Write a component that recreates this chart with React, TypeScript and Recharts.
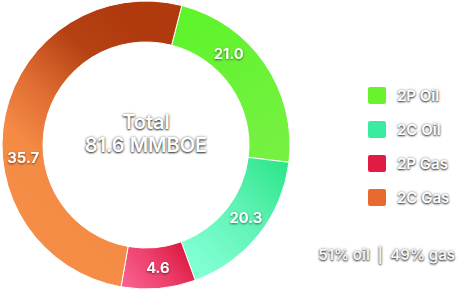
import React from "react";
import { PieChart, Pie, Cell, Legend } from "recharts";

// Category names
const categories = ["2P Oil", "2C Oil", "2P Gas", "2C Gas"];
// Printed slice values (MMBOE)
const labelValues = [21.0, 20.3, 4.6, 35.7];
// Arc sizes as drawn in the picture (MMBOE-equivalent shares of the ring)
const arcValues = [18.7, 14.3, 6.8, 41.8];
const totalTitle = "Total";
const totalText = "81.6 MMBOE";
const splitText = "51% oil  |  49% gas";

// styles
const legendColors = ["#6af22f", "#3aeca0", "#e01c45", "#e86a30"];
const gradients = [
  { id: "g0", x1: 0.3, y1: 0, x2: 0.7, y2: 1, stops: [["#5ef42a", 0], ["#76f142", 1]] },
  { id: "g1", x1: 1, y1: 0, x2: 0.2, y2: 0.9, stops: [["#28e585", 0], ["#5ef2b4", 0.5], ["#80ffd2", 1]] },
  { id: "g2", x1: 1, y1: 0.3, x2: 0, y2: 0.8, stops: [["#d8173c", 0], ["#ee3f6c", 0.5], ["#f8608e", 1]] },
  { id: "g3", x1: 0.65, y1: 0.05, x2: 0.25, y2: 0.75, stops: [["#b03a0e", 0], ["#b64214", 0.25], ["#e06d32", 0.55], ["#f48a44", 0.8], ["#f58d46", 1]] },
];
const labelAngleShift = [13.6, 2.4, 0.5, 18.2];
const FONT = "Inter, 'Noto Sans', sans-serif";
const SHADOW = "0 1px 2px rgba(0,0,0,0.8), 0 0 3px rgba(0,0,0,0.4)";

const data = categories.map((name, i) => ({ name, value: arcValues[i], label: labelValues[i] }));

const RAD = Math.PI / 180;

const renderLabel = (props: any) => {
  const { cx, cy, midAngle, innerRadius, outerRadius, index } = props;
  const r = (innerRadius + outerRadius) / 2;
  const a = (midAngle + labelAngleShift[index]) * RAD;
  const x = cx + r * Math.cos(a);
  const y = cy - r * Math.sin(a);
  return (
    <text
      x={x}
      y={y}
      textAnchor="middle"
      dominantBaseline="central"
      fill="#fff"
      fontSize={15}
      fontWeight={600}
      fontFamily={FONT}
      filter="url(#txtShadow)"
    >
      {labelValues[index].toFixed(1)}
    </text>
  );
};

const LegendContent = () => {
  return (
    <div style={{ fontFamily: FONT }}>
      {categories.map((name, i) => (
        <div key={name} style={{ display: "flex", alignItems: "center", height: 34 }}>
          <div
            style={{
              width: 18,
              height: 17,
              borderRadius: 2,
              background: legendColors[i],
              marginRight: 11,
            }}
          />
          <span
            style={{
              color: "#fff",
              fontSize: 15,
              fontWeight: 600,
              textShadow: SHADOW,
            }}
          >
            {name}
          </span>
        </div>
      ))}
    </div>
  );
};

export default function App() {
  return (
    <div style={{ position: "absolute", left: 0, top: 0, width: 460, height: 292, background: "#fff" }}>
      <svg width={0} height={0} style={{ position: "absolute" }}>
        <defs>
          {gradients.map((g) => (
            <linearGradient key={g.id} id={g.id} x1={g.x1} y1={g.y1} x2={g.x2} y2={g.y2}>
              {g.stops.map((s: any, k: number) => (
                <stop key={k} offset={s[1]} stopColor={s[0]} />
              ))}
            </linearGradient>
          ))}
          <filter id="txtShadow" x="-30%" y="-50%" width="160%" height="200%">
            <feDropShadow dx="0" dy="1" stdDeviation="1.3" floodColor="#000" floodOpacity="0.6" />
          </filter>
        </defs>
      </svg>
      <PieChart width={460} height={292} margin={{ top: 0, right: 0, bottom: 0, left: 0 }}>
        <Pie
          data={data}
          dataKey="value"
          nameKey="name"
          cx={146}
          cy={145}
          innerRadius={103}
          outerRadius={144}
          startAngle={75.6}
          endAngle={-284.4}
          stroke="#fff"
          strokeWidth={1}
          label={renderLabel}
          labelLine={false}
          isAnimationActive={false}
        >
          {data.map((d, i) => (
            <Cell key={d.name} fill={`url(#${gradients[i].id})`} />
          ))}
        </Pie>
        <Legend
          layout="vertical"
          content={<LegendContent />}
          wrapperStyle={{ position: "absolute", left: 368, top: 78, width: 92, height: 140 }}
        />
      </PieChart>
      <div
        style={{
          position: "absolute",
          left: 46,
          top: 111,
          width: 200,
          textAlign: "center",
          fontFamily: FONT,
          fontSize: 20,
          fontWeight: 600,
          lineHeight: "23px",
          color: "#fff",
          textShadow: SHADOW,
        }}
      >
        <div>{totalTitle}</div>
        <div>{totalText}</div>
      </div>
      <div
        style={{
          position: "absolute",
          right: 5,
          top: 245,
          fontFamily: FONT,
          fontSize: 15,
          fontWeight: 600,
          color: "#f6f6f6",
          whiteSpace: "pre",
          textShadow: SHADOW,
        }}
      >
        {splitText}
      </div>
    </div>
  );
}
